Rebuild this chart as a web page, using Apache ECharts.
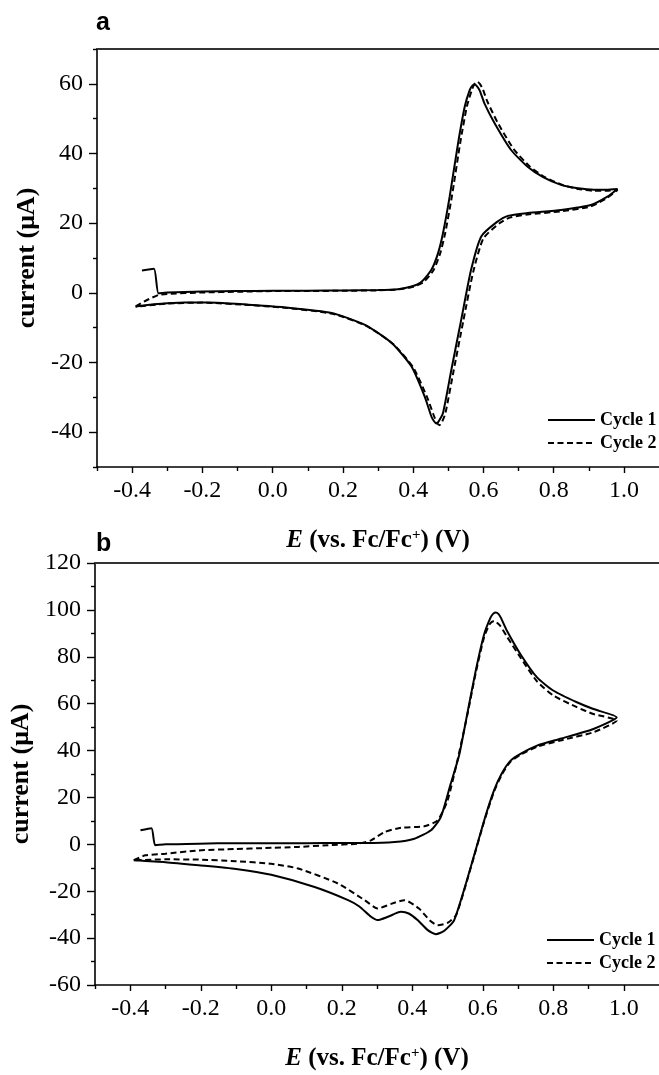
<!DOCTYPE html>
<html>
<head>
<meta charset="utf-8">
<script src="https://cdn.jsdelivr.net/npm/echarts@6/dist/echarts.min.js"></script>
<style>
html,body{margin:0;padding:0;background:#fff;}
#chart{width:659px;height:1075px;}
</style>
</head>
<body>
<div id="chart"></div>
<script>
// ---------- data: [E (V vs Fc/Fc+), current (uA)] ----------
var aCycle1 = [
  [-0.372, 6.4], [-0.338, 6.9], [-0.325, -0.1], [-0.3, 0.1], [-0.2, 0.4], [-0.1, 0.5], [0.0, 0.6],
  [0.1, 0.6], [0.2, 0.7], [0.3, 0.8], [0.357, 1.05], [0.395, 1.8], [0.424, 3.2], [0.452, 6.6],
  [0.471, 11.4], [0.485, 17.1], [0.504, 27.6], [0.528, 43], [0.547, 53.5], [0.561, 58.2],
  [0.568, 59.4], [0.575, 59.8], [0.582, 59.3], [0.59, 58.0], [0.603, 54.4], [0.632, 48.7],
  [0.679, 41], [0.726, 36.2], [0.77, 33.2], [0.821, 31], [0.87, 30], [0.915, 29.6], [0.95, 29.6],
  [0.982, 29.8], [0.953, 27.6], [0.906, 25.2], [0.821, 23.8], [0.726, 22.9], [0.67, 22.1],
  [0.638, 20.3], [0.594, 16.2], [0.565, 6.6], [0.537, -7.7], [0.509, -22], [0.485, -34.5],
  [0.472, -37.0], [0.466, -37.5], [0.459, -36.8], [0.452, -35.5], [0.433, -29.8], [0.395, -21.1],
  [0.339, -14.4], [0.263, -9.2], [0.168, -5.8], [0.026, -4.1], [-0.068, -3.4], [-0.2, -2.7],
  [-0.3, -3.0], [-0.39, -3.9]
];
var aCycle2 = [
  [-0.39, -3.9], [-0.36, -2.2], [-0.325, -0.6], [-0.3, -0.3], [-0.2, 0.1], [-0.1, 0.3], [0.0, 0.5],
  [0.1, 0.5], [0.2, 0.6], [0.3, 0.7], [0.36, 1.0], [0.4, 1.7], [0.43, 3.1], [0.458, 6.5],
  [0.477, 11.3], [0.491, 17], [0.51, 27.5], [0.534, 43], [0.553, 53.5], [0.568, 58.5],
  [0.576, 60.2], [0.583, 60.6], [0.59, 60.0], [0.598, 58.6], [0.611, 55], [0.64, 49],
  [0.686, 41.3], [0.732, 36.3], [0.775, 33.2], [0.825, 31], [0.87, 29.8], [0.915, 29.3],
  [0.95, 29.3], [0.982, 29.5], [0.953, 27.3], [0.906, 24.8], [0.821, 23.4], [0.726, 22.5],
  [0.675, 21.6], [0.646, 20], [0.6, 15.6], [0.571, 6], [0.543, -8], [0.515, -22.5],
  [0.492, -34.5], [0.481, -37.4], [0.475, -38], [0.468, -37.3], [0.458, -35], [0.44, -30],
  [0.4, -21.4], [0.343, -14.7], [0.265, -9.4], [0.17, -6], [0.026, -4.2], [-0.068, -3.5],
  [-0.2, -2.8], [-0.3, -3.1], [-0.39, -4.0]
];
var bCycle1 = [
  [-0.371, 6], [-0.34, 6.9], [-0.329, -0.4], [-0.3, 0.0], [-0.206, 0.3], [-0.1, 0.5], [0.0, 0.5],
  [0.1, 0.5], [0.2, 0.6], [0.265, 0.6], [0.35, 1.0], [0.406, 2.4], [0.453, 6], [0.481, 11.6],
  [0.509, 25.8], [0.533, 38], [0.556, 55.6], [0.58, 74], [0.604, 89.6], [0.622, 96.7],
  [0.63, 98.4], [0.637, 98.9], [0.645, 98.2], [0.652, 96.5], [0.669, 91], [0.707, 81.1],
  [0.754, 71.2], [0.801, 65.5], [0.867, 60.6], [0.914, 57.7], [0.98, 54.2], [0.914, 49.2],
  [0.82, 45], [0.754, 42.1], [0.707, 38.6], [0.679, 35.7], [0.655, 30.5], [0.632, 23],
  [0.604, 10.2], [0.566, -9.7], [0.519, -32.3], [0.49, -37], [0.467, -38.3], [0.444, -36.6],
  [0.415, -32.3], [0.39, -29.5], [0.368, -28.8], [0.331, -30.9], [0.302, -32.3], [0.283, -30.9],
  [0.25, -26.5], [0.218, -23.8], [0.123, -18.2], [0.0, -13], [-0.1, -10.5], [-0.206, -8.9],
  [-0.3, -7.6], [-0.39, -6.8]
];
var bCycle2 = [
  [-0.39, -6.8], [-0.357, -4.7], [-0.3, -4], [-0.206, -2.6], [-0.1, -2.0], [-0.018, -1.6],
  [0.076, -1.1], [0.161, -0.4], [0.246, 0.3], [0.283, 1.7], [0.321, 5.2], [0.368, 7.1],
  [0.434, 7.7], [0.472, 10.2], [0.5, 18.7], [0.528, 35.7], [0.556, 55], [0.58, 73],
  [0.604, 88.5], [0.62, 94], [0.632, 95.3], [0.648, 93.5], [0.669, 88.5], [0.707, 79.7],
  [0.754, 69.5], [0.801, 63.4], [0.867, 58.5], [0.914, 55.6], [0.98, 52.8], [0.914, 47.8],
  [0.82, 44.3], [0.754, 41.6], [0.707, 38.2], [0.679, 35.3], [0.655, 30], [0.632, 22.5],
  [0.604, 9.8], [0.566, -10], [0.525, -30], [0.5, -33.5], [0.472, -34.5], [0.45, -32.5],
  [0.42, -27.5], [0.378, -23.8], [0.34, -25.4], [0.302, -27.4], [0.265, -23.8], [0.189, -16.7],
  [0.076, -10.3], [0.0, -8.3], [-0.1, -7.2], [-0.206, -6.5], [-0.3, -6.4], [-0.39, -6.8]
];
var seriesNames = ['Cycle 1', 'Cycle 2'];
var panelLabels = ['a', 'b'];

// ---------- tick values ----------
var xMajorTicks = [-0.4, -0.2, 0.0, 0.2, 0.4, 0.6, 0.8, 1.0];
var xMinorTicks = [-0.5, -0.3, -0.1, 0.1, 0.3, 0.5, 0.7, 0.9];
var aYMajorTicks = [-40, -20, 0, 20, 40, 60];
var aYMinorTicks = [-50, -30, -10, 10, 30, 50, 70];
var bYMajorTicks = [-60, -40, -20, 0, 20, 40, 60, 80, 100, 120];
var bYMinorTicks = [-50, -30, -10, 10, 30, 50, 70, 90, 110];

var xRange = [-0.5, 1.1];
var aYRange = [-50, 70];
var bYRange = [-60, 120];

var SERIF = '"Liberation Serif", "Times New Roman", serif';
var SANS = '"Liberation Sans", Arial, sans-serif';
var AX = '#000';

var grids = [
  {left: 97, top: 49, width: 565, height: 418},
  {left: 95, top: 563, width: 567, height: 422}
];

function xAxes(gi) {
  var xName = '{i|E} (vs. Fc/Fc{s|+}) (V)';
  return [
    { // main bottom axis
      type: 'value', gridIndex: gi, position: 'bottom', min: xRange[0], max: xRange[1],
      axisLine: {show: true, onZero: false, lineStyle: {color: AX, width: 1.6}},
      axisTick: {show: true, inside: false, length: 6, customValues: xMajorTicks, lineStyle: {color: AX, width: 1.4}},
      axisLabel: {show: true, customValues: xMajorTicks, margin: 12,
        formatter: function (v) { return v.toFixed(1); },
        fontFamily: SERIF, fontSize: 24, color: '#000'},
      splitLine: {show: false},
      name: xName, nameLocation: 'middle', nameGap: 61,
      nameTextStyle: {fontFamily: SERIF, fontWeight: 'bold', fontSize: 25, color: '#000',
        rich: {
          i: {fontFamily: SERIF, fontWeight: 'bold', fontStyle: 'italic', fontSize: 25, color: '#000'},
          s: {fontFamily: SERIF, fontWeight: 'bold', fontSize: 15, color: '#000', verticalAlign: 'top'}
        }}
    },
    { // minor ticks
      type: 'value', gridIndex: gi, position: 'bottom', min: xRange[0], max: xRange[1],
      axisLine: {show: false, onZero: false},
      axisTick: {show: true, inside: false, length: 4, customValues: xMinorTicks, lineStyle: {color: AX, width: 1.4}},
      axisLabel: {show: false}, splitLine: {show: false}
    },
    { // top frame line
      type: 'value', gridIndex: gi, position: 'top', min: xRange[0], max: xRange[1],
      axisLine: {show: true, onZero: false, lineStyle: {color: '#333', width: 2}},
      axisTick: {show: false}, axisLabel: {show: false}, splitLine: {show: false}
    }
  ];
}

function yAxes(gi, range, major, minor) {
  return [
    {
      type: 'value', gridIndex: gi, position: 'left', min: range[0], max: range[1],
      axisLine: {show: true, onZero: false, lineStyle: {color: AX, width: 1.6}},
      axisTick: {show: true, inside: false, length: 8, customValues: major, lineStyle: {color: AX, width: 1.4}},
      axisLabel: {show: true, customValues: major, margin: 14,
        fontFamily: SERIF, fontSize: 24, color: '#000'},
      splitLine: {show: false},
      name: 'current (μA)', nameLocation: 'middle', nameRotate: 90, nameGap: 54,
      nameTextStyle: {fontFamily: SERIF, fontWeight: 'bold', fontSize: 26, color: '#000'}
    },
    {
      type: 'value', gridIndex: gi, position: 'left', min: range[0], max: range[1],
      axisLine: {show: false, onZero: false},
      axisTick: {show: true, inside: false, length: 4, customValues: minor, lineStyle: {color: AX, width: 1.4}},
      axisLabel: {show: false}, splitLine: {show: false}
    }
  ];
}

function lineSeries(name, data, xi, yi, dashed) {
  return {
    name: name, type: 'line', data: data, xAxisIndex: xi, yAxisIndex: yi,
    showSymbol: false, symbol: 'none', smooth: 0.2, clip: true, animation: false,
    lineStyle: {color: '#000', width: 2, type: dashed ? [6, 3.5] : 'solid'},
    itemStyle: {color: '#000'}
  };
}

function legend(left, top) {
  return {
    orient: 'vertical', left: left, top: top, data: seriesNames,
    itemWidth: 47, itemHeight: 2, itemGap: 5, padding: 0,
    itemStyle: {opacity: 0},
    textStyle: {fontFamily: SERIF, fontWeight: 'bold', fontSize: 18, color: '#000', lineHeight: 18},
    selectedMode: false
  };
}

var option = {
  backgroundColor: '#fff',
  animation: false,
  grid: grids,
  xAxis: xAxes(0).concat(xAxes(1)),
  yAxis: yAxes(0, aYRange, aYMajorTicks, aYMinorTicks).concat(yAxes(1, bYRange, bYMajorTicks, bYMinorTicks)),
  legend: [legend(547, 411), legend(546, 931)],
  graphic: [
    {type: 'text', left: 96, top: 11, style: {text: panelLabels[0], font: 'bold 25px ' + SANS, fill: '#000'}},
    {type: 'text', left: 96, top: 532, style: {text: panelLabels[1], font: 'bold 25px ' + SANS, fill: '#000'}}
  ],
  series: [
    lineSeries(seriesNames[0], aCycle1, 0, 0, false),
    lineSeries(seriesNames[1], aCycle2, 0, 0, true),
    lineSeries(seriesNames[0], bCycle1, 3, 2, false),
    lineSeries(seriesNames[1], bCycle2, 3, 2, true)
  ]
};

var chart = echarts.init(document.getElementById('chart'), null, {renderer: 'canvas'});
chart.setOption(option);
</script>
</body>
</html>
